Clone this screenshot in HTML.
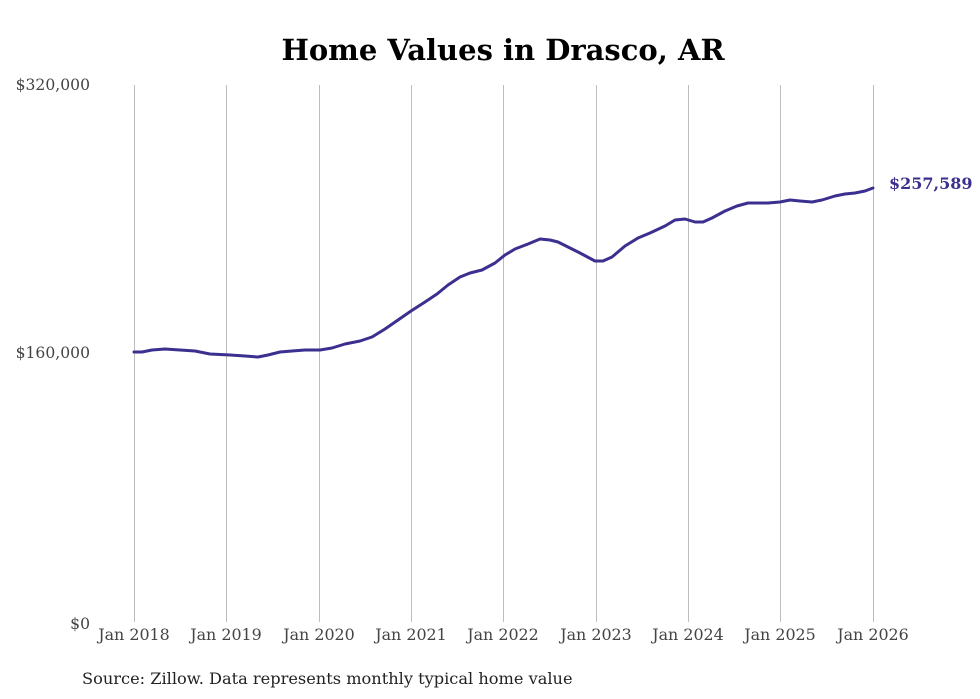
<!DOCTYPE html>
<html><head><style>
html,body{margin:0;padding:0;background:#fff;}
svg{display:block;}
</style></head><body>
<svg width="980" height="699" xmlns="http://www.w3.org/2000/svg" font-family="DejaVu Serif, serif">
<rect width="980" height="699" fill="#fff"/>
<text x="503" y="60" text-anchor="middle" font-size="29" font-weight="bold" fill="#000">Home Values in Drasco, AR</text>
<g stroke="#bdbdbd" stroke-width="1">
<line x1="134.5" y1="85" x2="134.5" y2="622"/>
<line x1="226.5" y1="85" x2="226.5" y2="622"/>
<line x1="319.5" y1="85" x2="319.5" y2="622"/>
<line x1="411.5" y1="85" x2="411.5" y2="622"/>
<line x1="503.5" y1="85" x2="503.5" y2="622"/>
<line x1="596.5" y1="85" x2="596.5" y2="622"/>
<line x1="688.5" y1="85" x2="688.5" y2="622"/>
<line x1="780.5" y1="85" x2="780.5" y2="622"/>
<line x1="873.5" y1="85" x2="873.5" y2="622"/>
</g>
<g font-size="15.6" fill="#444" text-anchor="end">
<text x="90" y="90">$320,000</text>
<text x="90" y="358">$160,000</text>
<text x="90" y="629">$0</text>
</g>
<g font-size="15.9" fill="#444" text-anchor="middle">
<text x="134" y="640">Jan 2018</text>
<text x="226" y="640">Jan 2019</text>
<text x="319" y="640">Jan 2020</text>
<text x="411" y="640">Jan 2021</text>
<text x="503" y="640">Jan 2022</text>
<text x="596" y="640">Jan 2023</text>
<text x="688" y="640">Jan 2024</text>
<text x="780" y="640">Jan 2025</text>
<text x="873" y="640">Jan 2026</text>
</g>
<text x="82" y="684" font-size="16.2" fill="#222">Source: Zillow. Data represents monthly typical home value</text>
<polyline fill="none" stroke="#3b2f8f" stroke-width="3" stroke-linejoin="round" stroke-linecap="round"
points="134,352 142,352 152,350 165,349 180,350 195,351 210,354 230,355 245,356 258,357 268,355 280,352 292,351 305,350 320,350 332,348 345,344 360,341 372,337 385,329 398,320 411,311 425,302 437,294 448,285 460,277 470,273 482,270 495,263 505,255 515,249 528,244 540,239 550,240 558,242 568,247 580,253 595,261 603,261 612,257 625,246 638,238 650,233 665,226 675,220 685,219 695,222 703,222 712,218 725,211 737,206 748,203 758,203 768,203 780,202 790,200 800,201 812,202 822,200 835,196 845,194 855,193 865,191 873,188"/>
<text x="889" y="189" font-size="16" font-weight="bold" fill="#3b2f8f">$257,589</text>
</svg>
</body></html>
